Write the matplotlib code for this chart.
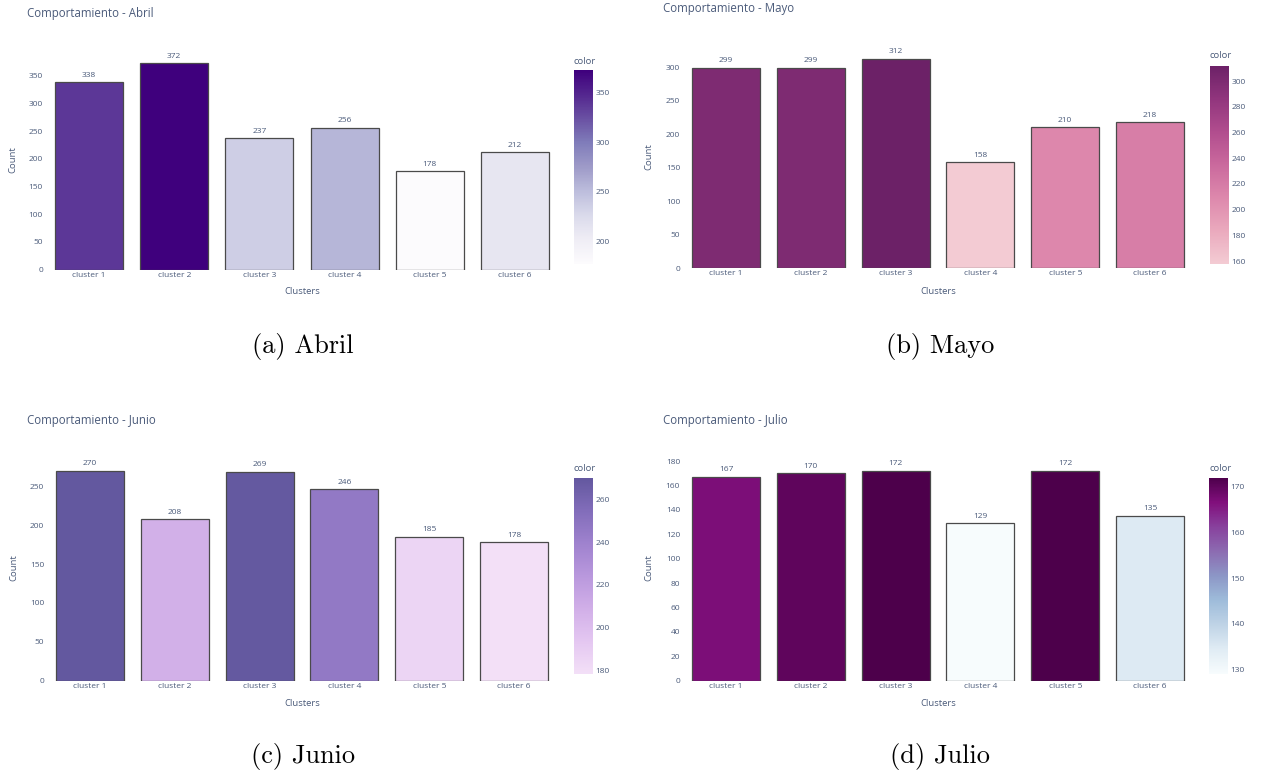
import matplotlib
matplotlib.use("Agg")
import matplotlib.pyplot as plt
from matplotlib.colors import LinearSegmentedColormap, Normalize
from matplotlib.cm import ScalarMappable

# ---- data -------------------------------------------------------------
clusters = ["cluster 1", "cluster 2", "cluster 3", "cluster 4", "cluster 5", "cluster 6"]
abril = [338, 372, 237, 256, 178, 212]
mayo = [299, 299, 312, 158, 210, 218]
junio = [270, 208, 269, 246, 185, 178]
julio = [167, 170, 172, 129, 172, 135]

titles = ["Comportamiento - Abril", "Comportamiento - Mayo",
          "Comportamiento - Junio", "Comportamiento - Julio"]
captions = ["(a) Abril", "(b) Mayo", "(c) Junio", "(d) Julio"]

abril_ticks = [0, 50, 100, 150, 200, 250, 300, 350]
mayo_ticks = [0, 50, 100, 150, 200, 250, 300]
junio_ticks = [0, 50, 100, 150, 200, 250]
julio_ticks = [0, 20, 40, 60, 80, 100, 120, 140, 160, 180]

abril_cticks = [200, 250, 300, 350]
mayo_cticks = [160, 180, 200, 220, 240, 260, 280, 300]
junio_cticks = [180, 200, 220, 240, 260]
julio_cticks = [130, 140, 150, 160, 170]

# ---- colour scales ------------------------------------------------------
purples = ["#fcfbfd", "#efedf5", "#dadaeb", "#bcbddc", "#9e9ac8",
           "#807dba", "#6a51a3", "#54278f", "#3f007d"]
magenta = ["#f3cbd3", "#eaa9bd", "#dd88ac", "#ca699d", "#b14d8e", "#91357d", "#6c2167"]
purp = ["#f3e0f7", "#e4c7f1", "#d1afe8", "#b998dd", "#9f82ce", "#826dba", "#63589f"]
bupu = ["#f7fcfd", "#e0ecf4", "#bfd3e6", "#9ebcda", "#8c96c6",
        "#8c6bb1", "#88419d", "#810f7c", "#4d004b"]

W, H = 1261, 775
fig = plt.figure(figsize=(W / 100, H / 100), dpi=100)
fig.patch.set_facecolor("white")

TXT = "#4b5b7a"
FONT = "Open Sans"


def px_rect(x0, x1, ytop, ybot):
    return [x0 / W, 1 - ybot / H, (x1 - x0) / W, (ybot - ytop) / H]


def fx(x):
    return x / W


def fy(y):
    return 1 - y / H


panels = [
    dict(vals=abril, cols=purples, yt=abril_ticks, ct=abril_cticks,
         ax=(46.5, 557.5, 50.9, 269.7), cb=(574, 593, 70.4, 263.6),
         title=(27, 14), ctitle=61, ylab=(13, 160), xlab=(302, 292), cap=(303, 346)),
    dict(vals=mayo, cols=magenta, yt=mayo_ticks, ct=mayo_cticks,
         ax=(683.6, 1192.4, 46.2, 268.3), cb=(1210, 1229, 65.6, 263.6),
         title=(663, 8.7), ctitle=56, ylab=(649, 157), xlab=(938, 291.7), cap=(940, 346)),
    dict(vals=junio, cols=purp, yt=junio_ticks, ct=junio_cticks,
         ax=(47.6, 556.4, 458.0, 680.7), cb=(573.5, 592.5, 478.0, 674.3),
         title=(27, 420.7), ctitle=468.7, ylab=(14, 568), xlab=(302, 703.3), cap=(303, 757)),
    dict(vals=julio, cols=bupu, yt=julio_ticks, ct=julio_cticks,
         ax=(683.6, 1192.4, 458.0, 680.7), cb=(1209, 1228, 477.5, 674.0),
         title=(663, 420.7), ctitle=468.7, ylab=(649, 568), xlab=(938, 703.3), cap=(940, 757)),
]

for p, title, cap in zip(panels, titles, captions):
    vals = p["vals"]
    cmap = LinearSegmentedColormap.from_list("scale", p["cols"])
    norm = Normalize(vmin=min(vals), vmax=max(vals))

    x0, x1, yt, yb = p["ax"]
    ax = fig.add_axes(px_rect(x0, x1, yt, yb))
    xs = list(range(len(clusters)))
    bars = ax.bar(xs, vals, width=0.8, color=[cmap(norm(v)) for v in vals],
                  edgecolor="#4a4a4a", linewidth=0.9)
    for b, v in zip(bars, vals):
        ax.annotate(str(v), (b.get_x() + b.get_width() / 2, v),
                    xytext=(0, 2.5), textcoords="offset points",
                    ha="center", va="bottom", fontsize=6, color=TXT, family=FONT)
    ax.set_xlim(-0.5, len(clusters) - 0.5)
    ax.set_ylim(0, max(vals) * 1.061)
    ax.set_xticks(xs)
    ax.set_xticklabels(clusters)
    ax.set_yticks(p["yt"])
    ax.tick_params(axis="both", length=0, labelsize=6, labelcolor=TXT)
    ax.tick_params(axis="x", pad=1.5)
    ax.tick_params(axis="y", pad=2.5)
    for lab in ax.get_xticklabels() + ax.get_yticklabels():
        lab.set_family(FONT)
    for s in ax.spines.values():
        s.set_visible(False)

    # colour bar
    c0, c1, ct, cbt = p["cb"]
    cax = fig.add_axes(px_rect(c0, c1, ct, cbt))
    cb = fig.colorbar(ScalarMappable(norm=norm, cmap=cmap), cax=cax)
    cb.outline.set_visible(False)
    cb.set_ticks(p["ct"])
    cax.tick_params(length=0, labelsize=6, labelcolor=TXT, pad=2)
    for lab in cax.get_yticklabels():
        lab.set_family(FONT)
    fig.text(fx(c0), fy(p["ctitle"]), "color", ha="left", va="center",
             fontsize=6.8, color=TXT, family=FONT)

    # titles and axis labels
    fig.text(fx(p["title"][0]), fy(p["title"][1]), title, ha="left", va="center",
             fontsize=8.3, color=TXT, family=FONT)
    fig.text(fx(p["ylab"][0]), fy(p["ylab"][1]), "Count", ha="center", va="center",
             rotation=90, fontsize=6.8, color=TXT, family=FONT)
    fig.text(fx(p["xlab"][0]), fy(p["xlab"][1]), "Clusters", ha="center", va="center",
             fontsize=6.8, color=TXT, family=FONT)

    # sub-figure caption
    fig.text(fx(p["cap"][0]), fy(p["cap"][1]), cap, ha="center", va="center",
             fontsize=19, color="black", family="cmr10")

fig.savefig("out.png", dpi=100, facecolor="white")
